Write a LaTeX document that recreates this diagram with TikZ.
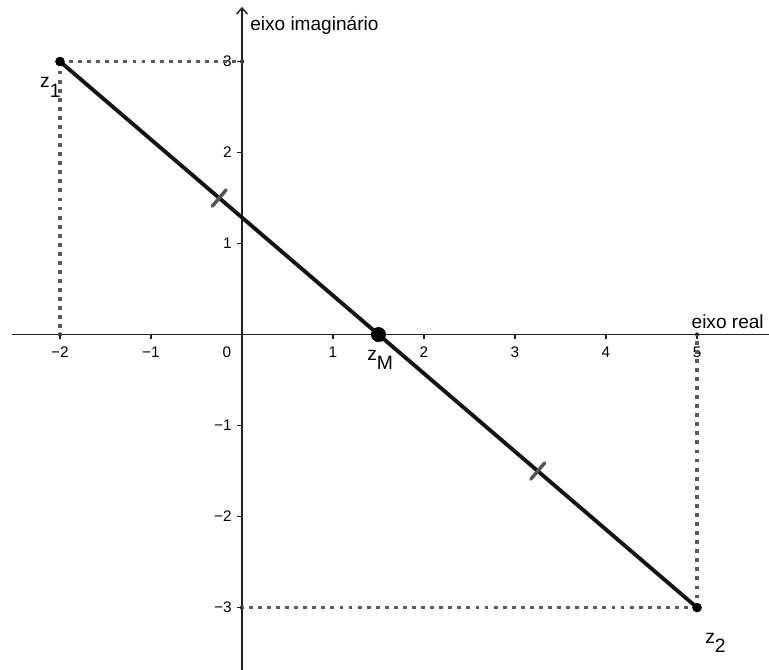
\documentclass[tikz,border=0pt]{standalone}
\usepackage{fontspec}
\setmainfont{Liberation Sans}
\usetikzlibrary{arrows.meta,calc}
\definecolor{axisc}{HTML}{222222}
\definecolor{dotc}{HTML}{5A5A5A}
\definecolor{markc}{HTML}{555555}
\tikzset{
  axisline/.style={draw=axisc, line width=1.1pt},
  proj/.style={draw=dotc, line width=2.9pt, dash pattern=on 2.9pt off 3.9pt},
  seg/.style={draw=black!92, line width=2.9pt},
  segmark/.style={draw=markc, line width=2.6pt, line cap=round},
  ticklab/.style={font=\fontsize{11.5pt}{13pt}\selectfont, inner sep=0pt},
  axlab/.style={font=\fontsize{14.3pt}{16pt}\selectfont, inner sep=0pt},
  ptlab/.style={font=\fontsize{14.5pt}{16pt}\selectfont, inner sep=0pt},
  bigpt/.style={circle, fill=black, inner sep=0pt, minimum size=11pt},
  smallpt/.style={circle, fill=black, inner sep=0pt, minimum size=7pt},
  axpt/.style={circle, fill=axisc, inner sep=0pt, minimum size=3.2pt},
}
\begin{document}
\begin{tikzpicture}[x=68.25pt, y=68.25pt]
\useasboundingbox (-2.659,-3.676) rectangle (5.791,3.676);
% axes
\coordinate (xl) at (-2.53,0);
\coordinate (xr) at (5.80,0);
\coordinate (yb) at (0,-3.70);
\coordinate (yt) at (0,3.60);
\draw[axisline] (xl) -- (xr);
\draw[axisline, -{Straight Barb[length=4.5pt,width=8pt,line width=1.1pt]}] (yb) -- (yt);
% ticks
\foreach \x/\t in {-2/−2,-1/−1,1/1,2/2,3/3,4/4,5/5}{
  \draw[axisc, line width=1pt] (\x,0) -- (\x,-0.045);
  \node[ticklab] (xt\x) at (\x,-0.19) {\t};
}
\node[ticklab] (xt0) at (-0.165,-0.19) {0};
\foreach \y/\t in {-3/−3,-2/−2,-1/−1,1/1,2/2,3/3}{
  \draw[axisc, line width=1pt] (0,\y) -- (-0.055,\y);
  \node[ticklab, anchor=east] (yt\y) at (-0.11,\y) {\t};
}
% axis labels
\node[axlab, anchor=base west] (lim) at (0.088,3.346) {eixo imaginário};
\node[axlab, anchor=base east] (lre) at (5.736,0.071) {eixo real};
% points
\node[smallpt] (z1) at (-2,3) {};
\node[smallpt] (z2) at (5,-3) {};
\node[axpt] (p1x) at (-2,0) {};
\node[axpt] (p1y) at (0,3) {};
\node[axpt] (p2x) at (5,0) {};
\node[axpt] (p2y) at (0,-3) {};
% projections
\draw[proj] (z1.center) -- (p1y.center);
\draw[proj] (z1.center) -- (p1x.center);
\draw[proj] (z2.center) -- (p2y.center);
\draw[proj] (z2.center) -- (p2x.center);
% segment
\node[bigpt] (zM) at (1.5,0) {};
\draw[seg] (z1.center) -- (z2.center);
\node[bigpt] at (zM) {};
\node[smallpt] at (z1) {};
\node[smallpt] at (z2) {};
% congruence marks
\coordinate (m1) at (-0.25,1.5);
\coordinate (m2) at (3.25,-1.5);
\draw[segmark] ($(m1)+(0.076,0.089)$) -- ($(m1)-(0.076,0.089)$);
\draw[segmark] ($(m2)+(0.076,0.089)$) -- ($(m2)-(0.076,0.089)$);
% point labels
\node[ptlab, anchor=base west] (l1) at (-2.22,2.709) {z\raisebox{-6.8pt}{1}};
\node[ptlab, anchor=base west] (lM) at (1.374,-0.28) {z\raisebox{-6.8pt}{M}};
\node[ptlab, anchor=base west] (l2) at (5.088,-3.39) {z\raisebox{-6.8pt}{2}};
\end{tikzpicture}
\end{document}
